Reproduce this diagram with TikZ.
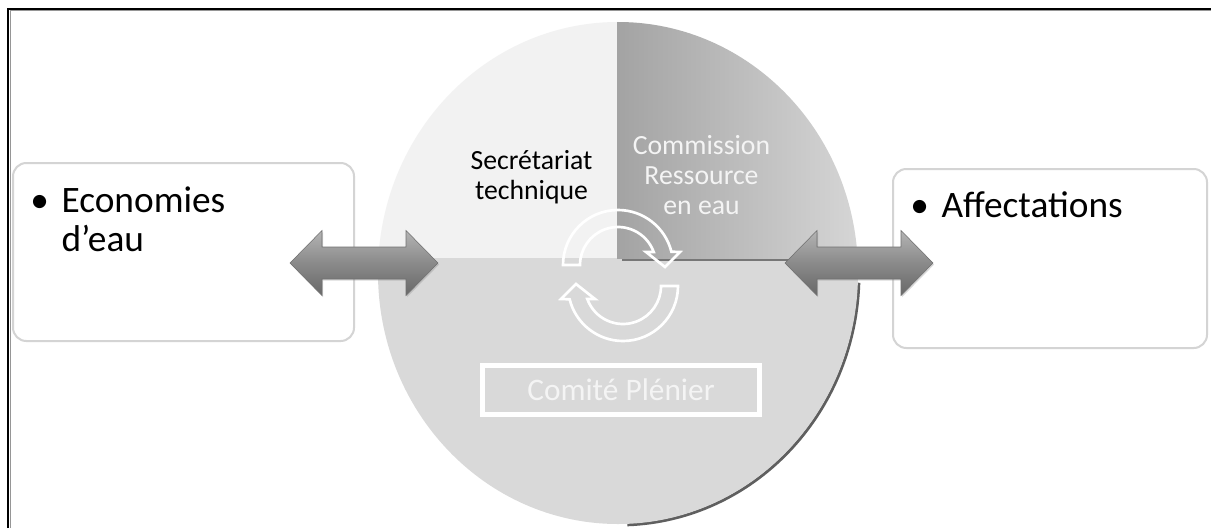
\documentclass[tikz,border=0pt]{standalone}
\usepackage{fontspec}
\setmainfont{Carlito}
\usepackage{tikz}
\usetikzlibrary{calc, shadows}
\definecolor{framegray}{RGB}{150, 150, 150}
\definecolor{boxline}{RGB}{212, 212, 212}
\definecolor{cyclebot}{RGB}{217, 217, 217}
\definecolor{cycletl}{RGB}{242, 242, 242}
\definecolor{cycletrL}{RGB}{163, 163, 163}
\definecolor{cycletrR}{RGB}{214, 214, 214}
\definecolor{cycleshadow}{RGB}{95, 95, 95}
\definecolor{arrtop}{RGB}{180, 180, 180}
\definecolor{arrmid}{RGB}{138, 138, 138}
\definecolor{arrbot}{RGB}{104, 104, 104}
\definecolor{arrline}{RGB}{112, 112, 112}
\definecolor{lighttxt}{RGB}{244, 244, 244}
\newcommand{\dblarrow}[2]{%
  \path[dblarrowshape] (#1)
    -- ($(#1)+(32,-32.5)$) -- ($(#1)+(32,-16)$)
    -- ($(#2)+(-32,-16)$) -- ($(#2)+(-32,-32.5)$)
    -- (#2)
    -- ($(#2)+(-32,32.5)$) -- ($(#2)+(-32,16)$)
    -- ($(#1)+(32,16)$) -- ($(#1)+(32,32.5)$) -- cycle;}
\newcommand{\cyclearrow}[1]{%
  \draw[cyclearr, #1] (180:38) -- (180:55)
    arc[start angle=180, end angle=346, radius=55]
    -- (62,-13) -- (47,2) -- (28,-13) -- (340:38)
    arc[start angle=340, end angle=180, radius=38] -- cycle;}
\begin{document}
\begin{tikzpicture}[
  x=0.75pt, y=-0.75pt,
  sidebox/.style={draw=boxline, line width=1.5pt, rounded corners=10pt,
                  fill=white, inner sep=0pt},
  itemtxt/.style={anchor=base west, inner sep=0pt,
                  font=\fontsize{28}{29.25}\selectfont},
  circtxt/.style={align=center, inner sep=0pt,
                  font=\fontsize{20.8}{22.5}\selectfont},
  comitebox/.style={draw=white, line width=3.5pt, minimum width=208pt,
                    minimum height=37pt, text=lighttxt,
                    font=\fontsize{23.5}{28}\selectfont},
  cyclearr/.style={draw=white, line width=2pt, line join=miter},
  dblarrowshape/.style={top color=arrtop, bottom color=arrbot,
                        middle color=arrmid, draw=arrline, line width=0.4pt,
                        drop shadow={opacity=0.3, shadow xshift=0.8pt,
                                     shadow yshift=-1.2pt}}
]
\fill[white] (0,0) rectangle (1212,528);
\useasboundingbox (0,0) rectangle (1212,528);

% ── Frame ────────────────────────────────────────────────────────────────────
\draw[framegray, line width=0.6pt] (9.9,528) -- (9.9,10.6) -- (1211,10.6);
\draw[black, line width=1.6pt] (8.3,528) -- (8.3,9) -- (1211,9);

% ── Side boxes ───────────────────────────────────────────────────────────────
\node[sidebox, minimum width=255.75pt, minimum height=133.5pt]
  (economies) at (183.5,252) {};
\node[sidebox, minimum width=235.5pt, minimum height=134.25pt]
  (affectations) at (1050,258.5) {};

\node[itemtxt] (ecotxt) at ([xshift=37pt, yshift=-38pt]economies.north west)
  {\llap{\textbullet\hspace{9.5pt}}\begin{tabular}[t]{@{}l@{}}Economies\\d’eau\end{tabular}};
\node[itemtxt] (afftxt) at ([xshift=37pt, yshift=-37pt]affectations.north west)
  {\llap{\textbullet\hspace{9.5pt}}Affectations};

% ── Cycle ────────────────────────────────────────────────────────────────────
\coordinate (ctr) at (618,273);

% shadow on the lower right
\draw[cycleshadow, line width=2.2pt]
  ($(ctr)+(1,1)+(2:240 and 251)$)
  arc[start angle=2, end angle=88, x radius=240, y radius=251];

\begin{scope}
  \clip (ctr) ellipse [x radius=240, y radius=251];
  \fill[cyclebot] (370,258) rectangle (870,530);
  \fill[cycletl] (370,15) rectangle (617,258);
  \shade[left color=cycletrL, right color=cycletrR] (617,15) rectangle (860,258);
  \draw[cycleshadow!85, line width=1.5pt] (622,259.5) -- (862,259.5);
\end{scope}

\node[circtxt, text=black] (secretariat) at (531.5,177.5)
  {Secrétariat\\technique};
\node[circtxt, text=lighttxt] (commission) at (701.5,175.5)
  {Commission\\Ressource\\en eau};

% rotating arrows
\cyclearrow{shift={(618,265)}}
\cyclearrow{shift={(623,286)}, rotate=180}

\node[comitebox] (comite) at (621,390) {Comité Plénier};

% ── Double arrows ────────────────────────────────────────────────────────────
\coordinate (ecotip)   at (290,263);
\coordinate (cyclew)   at (438,263);
\coordinate (cyclee)   at (785,263);
\coordinate (afftip)   at (933,263);

\dblarrow{ecotip}{cyclew}
\dblarrow{cyclee}{afftip}

\end{tikzpicture}
\end{document}
